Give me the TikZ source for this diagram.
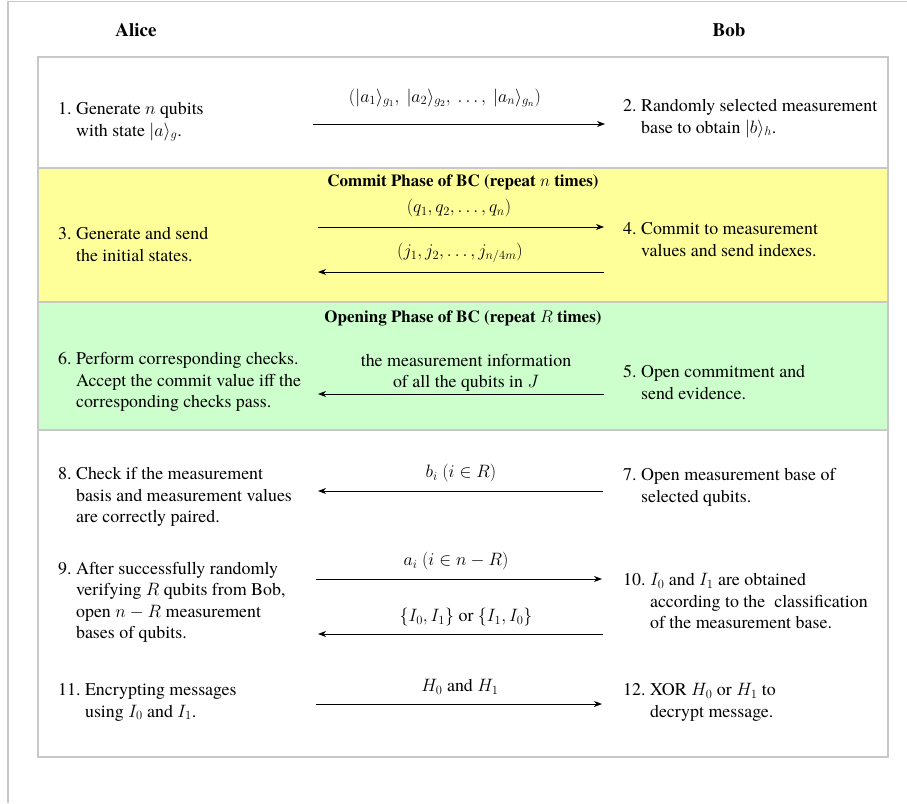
\RequirePackage{fix-cm}
\documentclass[tikz,border=0pt]{standalone}
\usepackage{amsmath}
\usepackage{amssymb}
\usepackage{fontspec}
\setmainfont{texgyretermes}[Extension=.otf, UprightFont=*-regular, BoldFont=*-bold, ItalicFont=*-italic, BoldItalicFont=*-bolditalic]
\usetikzlibrary{positioning}
\usetikzlibrary{arrows.meta}
\definecolor{commitbg}{RGB}{255,255,153}
\definecolor{openbg}{RGB}{204,255,204}
\definecolor{framegray}{RGB}{200,200,200}
\tikzset{>={Stealth[length=8pt, width=6pt, inset=2.5pt]}}
\tikzset{party/.style={inner sep=0pt, font=\fontsize{19}{22}\selectfont\bfseries}}
\tikzset{stepL/.style={anchor=west, inner sep=0pt, font=\fontsize{17.9}{21.5}\selectfont}}
\tikzset{msg/.style={inner sep=0pt, align=center, font=\fontsize{17.9}{21.5}\selectfont}}
\tikzset{phase/.style={inner sep=0pt, font=\fontsize{17}{20}\selectfont\bfseries}}
\tikzset{band/.style={draw=framegray, line width=1.6pt}}
\tikzset{flow/.style={->, line width=0.9pt}}

\begin{document}
\begin{tikzpicture}[x=1pt,y=-1pt]
\useasboundingbox (0,0) rectangle (907,803);
\draw[framegray, line width=1.6pt] (8,803) -- (8,1.5) -- (907,1.5);

% bands
\draw[band, fill=white] (38,57) rectangle (888,168);
\draw[band, fill=commitbg] (38,168) rectangle (888,302);
\draw[band, fill=openbg] (38,302) rectangle (888,430);
\draw[band, fill=white] (38,430) rectangle (888,757);

\node[party] (alice) at (136,30) {Alice};
\node[party] (bob) at (729,30) {Bob};

% steps
\node[stepL] (s1) at (58,121) {\begin{tabular}{@{}l@{\ }l@{}}1. & Generate $n$ qubits\\ & with state $\lvert a\rangle_g$.\end{tabular}};
\node[stepL] (s2) at (623,118) {\begin{tabular}{@{}l@{\ }l@{}}2. & Randomly selected measurement\\ & base to obtain $\lvert b\rangle_h$.\end{tabular}};
\node[stepL] (s3) at (58,246) {\begin{tabular}{@{}l@{\ }l@{}}3. & Generate and send\\ & the initial states.\end{tabular}};
\node[stepL] (s4) at (623,241) {\begin{tabular}{@{}l@{\ }l@{}}4. & Commit to measurement\\ & values and send indexes.\end{tabular}};
\node[stepL] (s6) at (58,382) {\begin{tabular}{@{}l@{\ }l@{}}6. & Perform corresponding checks.\\ & Accept the commit value iff the\\ & corresponding checks pass.\end{tabular}};
\node[stepL] (s5) at (623,384) {\begin{tabular}{@{}l@{\ }l@{}}5. & Open commitment and\\ & send evidence.\end{tabular}};
\node[stepL] (s8) at (58,497) {\begin{tabular}{@{}l@{\ }l@{}}8. & Check if the measurement\\ & basis and measurement values\\ & are correctly paired.\end{tabular}};
\node[stepL] (s7) at (623,487) {\begin{tabular}{@{}l@{\ }l@{}}7. & Open measurement base of\\ & selected qubits.\end{tabular}};
\node[stepL] (s9) at (58,602) {\begin{tabular}{@{}l@{\ }l@{}}9. & After successfully randomly\\ & verifying $R$ qubits from Bob,\\ & open $n-R$ measurement\\ & bases of qubits.\end{tabular}};
\node[stepL] (s10) at (623,603) {\begin{tabular}{@{}l@{\ }l@{}}10. & $I_0$ and $I_1$ are obtained\\ & according to the\ \ classification\\ & of the measurement base.\end{tabular}};
\node[stepL] (s11) at (58,702) {\begin{tabular}{@{}l@{\ }l@{}}11. & Encrypting messages\\ & using $I_0$ and $I_1$.\end{tabular}};
\node[stepL] (s12) at (623,702) {\begin{tabular}{@{}l@{\ }l@{}}12. & XOR $H_0$ or $H_1$ to\\ & decrypt message.\end{tabular}};

% phase titles
\node[phase] (commit) at (463,182) {Commit Phase of BC (repeat $n$ times)};
\node[phase] (opening) at (463,318) {Opening Phase of BC (repeat $R$ times)};

% messages
\node[msg] (kets) at (445,98) {$(\lvert a_1\rangle_{g_1},\: \lvert a_2\rangle_{g_2},\: \ldots,\: \lvert a_n\rangle_{g_n})$};
\node[msg] (qs) at (459,208) {$(q_1, q_2, \ldots, q_n)$};
\node[msg] (js) at (460,253) {$(j_1, j_2, \ldots, j_{n/4m})$};
\node[msg] (info) at (466,373) {the measurement information\\of all the qubits in $J$};
\node[msg] (bi) at (461,473) {$b_i$ $(i \in R)$};
\node[msg] (ai) at (456,561) {$a_i$ $(i \in n-R)$};
\node[msg] (Is) at (466,617) {$\{I_0, I_1\}$ or $\{I_1, I_0\}$};
\node[msg] (Hs) at (460,687) {$H_0$ and $H_1$};

% arrow ends
\coordinate (k1) at (313,124);
\coordinate (k2) at (605,124);
\coordinate (q1) at (318,227);
\coordinate (q2) at (604,227);
\coordinate (j1) at (604,272);
\coordinate (j2) at (318,272);
\coordinate (i1) at (604,394);
\coordinate (i2) at (318,394);
\coordinate (b1) at (603,491);
\coordinate (b2) at (318,491);
\coordinate (a1) at (316,579);
\coordinate (a2) at (602,579);
\coordinate (c1) at (603,634);
\coordinate (c2) at (318,634);
\coordinate (h1) at (316,704);
\coordinate (h2) at (602,704);

\draw[flow] (k1) -- (k2);
\draw[flow] (q1) -- (q2);
\draw[flow] (j1) -- (j2);
\draw[flow] (i1) -- (i2);
\draw[flow] (b1) -- (b2);
\draw[flow] (a1) -- (a2);
\draw[flow] (c1) -- (c2);
\draw[flow] (h1) -- (h2);
\end{tikzpicture}
\end{document}
